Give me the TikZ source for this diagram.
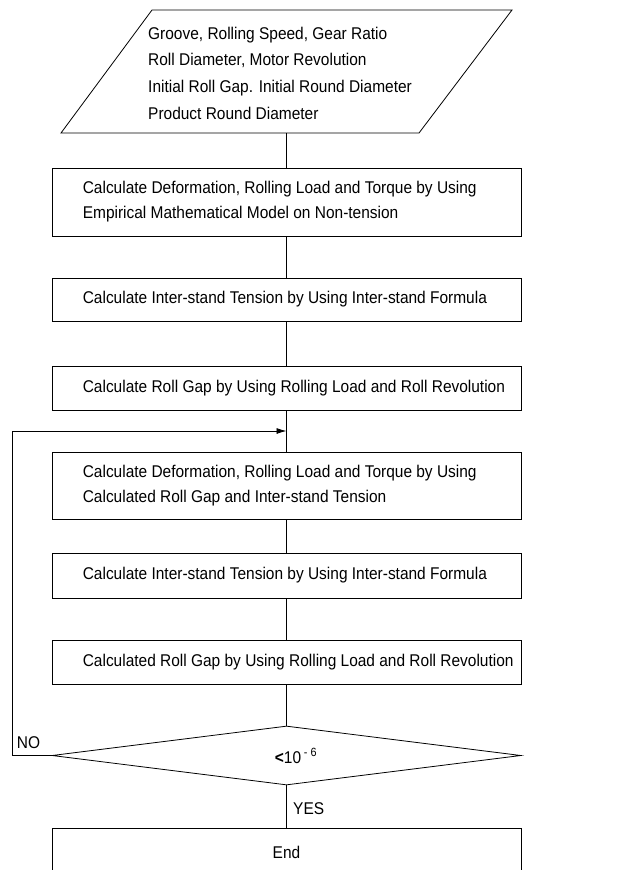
\documentclass[tikz,border=0pt]{standalone}
\usepackage{fontspec}
\setmainfont[FakeStretch=0.91]{Liberation Sans}
\usetikzlibrary{arrows.meta,shapes.geometric}
\begin{document}
\begin{tikzpicture}[x=1pt,y=-1pt,
  box/.style={draw, line width=0.8pt, minimum width=469pt, inner sep=0pt},
  txt/.style={anchor=west, align=left, inner sep=0pt, font=\fontsize{17}{25}\selectfont},
  lbl/.style={inner sep=0pt, font=\fontsize{17}{20}\selectfont},
  conn/.style={draw, line width=0.8pt}]
\useasboundingbox (0,0) rectangle (620,870);
\clip (0,0) rectangle (620,870);
% input parallelogram
\coordinate (p1) at (61,133);
\coordinate (p2) at (152,10);
\coordinate (p3) at (512,10);
\coordinate (p4) at (419,133);
\draw[line width=0.8pt] (p1) -- (p2) -- (p3) -- (p4) -- cycle;
\node[txt, font=\fontsize{17}{26.7}\selectfont] (inp) at (148,73)
  {Groove, Rolling Speed, Gear Ratio\\Roll Diameter, Motor Revolution\\Initial Roll Gap. Initial Round Diameter\\Product Round Diameter};
\coordinate (pb) at (286.5,133);
% boxes
\node[box, minimum height=68pt] (b1) at (286.5,202) {};
\node[txt] (t1) at ([xshift=31pt]b1.west) {Calculate Deformation, Rolling Load and Torque by Using\\Empirical Mathematical Model on Non-tension};
\node[box, minimum height=43pt] (b2) at (286.5,299.5) {};
\node[txt] (t2) at ([xshift=31pt]b2.west) {Calculate Inter-stand Tension by Using Inter-stand Formula};
\node[box, minimum height=44pt] (b3) at (286.5,388) {};
\node[txt] (t3) at ([xshift=31pt]b3.west) {Calculate Roll Gap by Using Rolling Load and Roll Revolution};
\node[box, minimum height=67pt] (b4) at (286.5,485.5) {};
\node[txt] (t4) at ([xshift=31pt]b4.west) {Calculate Deformation, Rolling Load and Torque by Using\\Calculated Roll Gap and Inter-stand Tension};
\node[box, minimum height=45pt] (b5) at (286.5,575.5) {};
\node[txt] (t5) at ([xshift=31pt]b5.west) {Calculate Inter-stand Tension by Using Inter-stand Formula};
\node[box, minimum height=44pt] (b6) at (286.5,662) {};
\node[txt] (t6) at ([xshift=31pt]b6.west) {Calculated Roll Gap by Using Rolling Load and Roll Revolution};
% decision
\node[diamond, draw, line width=0.8pt, minimum width=469pt, minimum height=59pt, inner sep=0pt] (d) at (286.5,755.5) {};
\node[lbl] (dt) at (296,756) {\textbf{<}10\,\textsuperscript{- 6}};
% end
\node[box, minimum height=48pt, font=\fontsize{17}{20}\selectfont] (e) at (286.5,852) {End};
% connectors
\draw[conn] (pb) -- (b1.north);
\draw[conn] (b1.south) -- (b2.north);
\draw[conn] (b2.south) -- (b3.north);
\draw[conn] (b3.south) -- (b4.north);
\draw[conn] (b4.south) -- (b5.north);
\draw[conn] (b5.south) -- (b6.north);
\draw[conn] (b6.south) -- (d.north);
\draw[conn] (d.south) -- (e.north);
\coordinate (lc) at (12,431);
\coordinate (la) at (286.5,431);
\draw[conn, -{Latex[length=10pt,width=6pt]}] (d.west) -| (lc) -- (la);
\node[lbl] (no) at (28.5,743) {NO};
\node[lbl, anchor=west] (yes) at (293,809) {YES};
\end{tikzpicture}
\end{document}
